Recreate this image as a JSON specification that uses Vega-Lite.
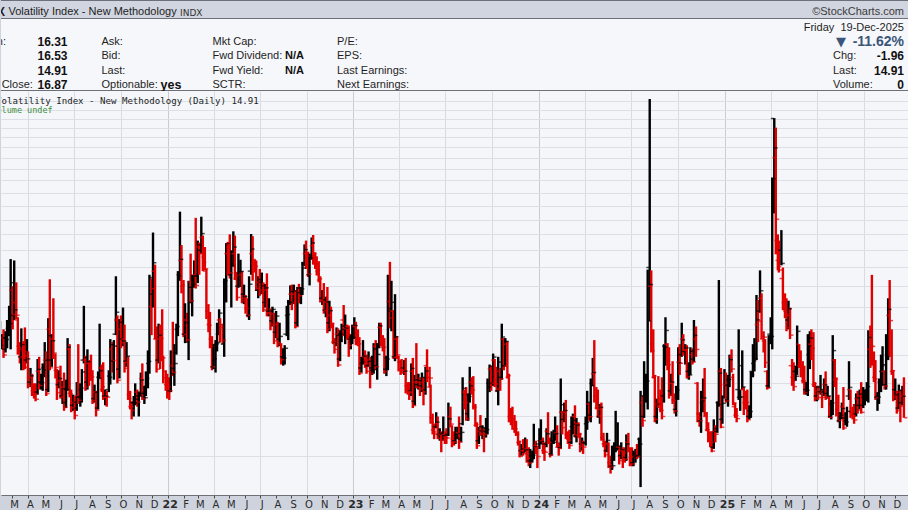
{
"$schema":"https://vega.github.io/schema/vega-lite/v6.json",
"background":"#cfd3dd",
"padding":0,
"spacing":0,
"config":{"view":{"stroke":null},"font":"Liberation Sans"},
"datasets":{
"ohlc":[
{"d":"2021-02-05","o":22.9,"h":23.4,"l":20.6,"c":20.87},
{"d":"2021-02-09","o":21,"h":22,"l":20.5,"c":21.63},
{"d":"2021-02-12","o":21.6,"h":22.5,"l":19.7,"c":19.97},
{"d":"2021-02-16","o":20.5,"h":22.3,"l":20.2,"c":21.46},
{"d":"2021-02-19","o":21.6,"h":23.5,"l":20.6,"c":22.05},
{"d":"2021-02-23","o":22.6,"h":25.1,"l":21.8,"c":23.11},
{"d":"2021-02-26","o":23,"h":31.2,"l":20.5,"c":27.95},
{"d":"2021-03-02","o":27,"h":27.5,"l":22.5,"c":24.1},
{"d":"2021-03-05","o":24,"h":31,"l":23.5,"c":24.66},
{"d":"2021-03-09","o":25.5,"h":28,"l":23.6,"c":24.03},
{"d":"2021-03-12","o":23.5,"h":23.8,"l":20,"c":20.69},
{"d":"2021-03-16","o":20.8,"h":21.2,"l":19.2,"c":19.79},
{"d":"2021-03-19","o":19.8,"h":22.6,"l":18.6,"c":20.95},
{"d":"2021-03-23","o":20.5,"h":21.3,"l":18.6,"c":20.3},
{"d":"2021-03-26","o":20.3,"h":22.7,"l":18.7,"c":18.86},
{"d":"2021-03-30","o":19.5,"h":21.5,"l":19.2,"c":19.61},
{"d":"2021-04-01","o":19.9,"h":20.3,"l":17.1,"c":17.33},
{"d":"2021-04-06","o":17.6,"h":18.8,"l":17.2,"c":18.12},
{"d":"2021-04-09","o":18,"h":18.3,"l":16.5,"c":16.69},
{"d":"2021-04-13","o":16.9,"h":17.5,"l":16.3,"c":16.65},
{"d":"2021-04-16","o":16.6,"h":17.5,"l":16.1,"c":16.25},
{"d":"2021-04-20","o":16.8,"h":19.6,"l":16.6,"c":18.68},
{"d":"2021-04-23","o":18.5,"h":19.8,"l":17,"c":17.33},
{"d":"2021-04-27","o":17.6,"h":18.3,"l":17,"c":17.56},
{"d":"2021-04-30","o":17.5,"h":19.2,"l":16.9,"c":18.61},
{"d":"2021-05-04","o":18.8,"h":21.2,"l":18,"c":19.48},
{"d":"2021-05-07","o":19.5,"h":20.3,"l":16.5,"c":16.69},
{"d":"2021-05-11","o":17,"h":23.7,"l":16.8,"c":21.84},
{"d":"2021-05-14","o":22.5,"h":28.4,"l":18.6,"c":18.81},
{"d":"2021-05-18","o":19.5,"h":22,"l":18.9,"c":21.34},
{"d":"2021-05-21","o":21.5,"h":26,"l":19.6,"c":20.15},
{"d":"2021-05-25","o":19.9,"h":20.1,"l":17.9,"c":18.84},
{"d":"2021-05-28","o":18.6,"h":18.7,"l":16.2,"c":16.76},
{"d":"2021-06-01","o":17.4,"h":18.6,"l":17.1,"c":17.9},
{"d":"2021-06-04","o":17.7,"h":19,"l":16.3,"c":16.42},
{"d":"2021-06-08","o":16.5,"h":17.7,"l":15.9,"c":17.07},
{"d":"2021-06-11","o":17.2,"h":18.4,"l":15.4,"c":15.65},
{"d":"2021-06-15","o":16,"h":17.8,"l":15.6,"c":17.02},
{"d":"2021-06-18","o":17,"h":21.6,"l":16.9,"c":20.7},
{"d":"2021-06-22","o":20.5,"h":21,"l":16.4,"c":16.66},
{"d":"2021-06-25","o":16.7,"h":17,"l":15.3,"c":15.62},
{"d":"2021-06-29","o":15.8,"h":16.6,"l":15.4,"c":16.02},
{"d":"2021-07-02","o":16,"h":16.5,"l":14.8,"c":15.07},
{"d":"2021-07-06","o":15.6,"h":17.6,"l":15.4,"c":16.44},
{"d":"2021-07-09","o":16.5,"h":21,"l":15.9,"c":16.18},
{"d":"2021-07-13","o":16.4,"h":17.5,"l":15.7,"c":17.12},
{"d":"2021-07-16","o":17,"h":18.7,"l":16,"c":18.45},
{"d":"2021-07-20","o":19.5,"h":25.1,"l":19.2,"c":19.73},
{"d":"2021-07-23","o":19.5,"h":19.9,"l":16.9,"c":17.2},
{"d":"2021-07-27","o":17.6,"h":20.5,"l":17,"c":19.36},
{"d":"2021-07-30","o":19.2,"h":19.5,"l":17.3,"c":18.24},
{"d":"2021-08-03","o":18.8,"h":20,"l":17.7,"c":18.04},
{"d":"2021-08-06","o":18,"h":18.6,"l":15.9,"c":16.15},
{"d":"2021-08-10","o":16.3,"h":17.4,"l":16,"c":16.79},
{"d":"2021-08-13","o":16.8,"h":16.9,"l":15,"c":15.45},
{"d":"2021-08-17","o":15.6,"h":18.5,"l":15.5,"c":17.91},
{"d":"2021-08-20","o":18,"h":23.1,"l":17.9,"c":18.56},
{"d":"2021-08-24","o":18.8,"h":19.1,"l":16.8,"c":17.22},
{"d":"2021-08-27","o":17,"h":19.3,"l":16.2,"c":16.39},
{"d":"2021-08-31","o":16.5,"h":17,"l":15.8,"c":16.48},
{"d":"2021-09-03","o":16.4,"h":16.9,"l":15.7,"c":16.41},
{"d":"2021-09-07","o":17,"h":18.6,"l":16.8,"c":18},
{"d":"2021-09-10","o":18.1,"h":21.5,"l":17.4,"c":20.95},
{"d":"2021-09-14","o":20.5,"h":21.2,"l":18.4,"c":19.46},
{"d":"2021-09-17","o":19.4,"h":21.4,"l":17.8,"c":20.81},
{"d":"2021-09-21","o":22,"h":28.8,"l":21.9,"c":24.36},
{"d":"2021-09-24","o":23.5,"h":24,"l":17.5,"c":17.75},
{"d":"2021-09-28","o":18.7,"h":23.6,"l":17.9,"c":23.25},
{"d":"2021-10-01","o":22.5,"h":24,"l":20.6,"c":21.15},
{"d":"2021-10-05","o":21.5,"h":24.9,"l":20.8,"c":21.3},
{"d":"2021-10-08","o":21.5,"h":23,"l":18.4,"c":18.77},
{"d":"2021-10-12","o":19.4,"h":21.2,"l":18.9,"c":19.85},
{"d":"2021-10-15","o":19.3,"h":19.8,"l":16.2,"c":16.3},
{"d":"2021-10-19","o":16.6,"h":16.9,"l":15.5,"c":15.7},
{"d":"2021-10-22","o":15.7,"h":16.1,"l":14.8,"c":15.43},
{"d":"2021-10-26","o":16,"h":16.5,"l":15,"c":15.98},
{"d":"2021-10-29","o":16,"h":17.5,"l":15.8,"c":16.26},
{"d":"2021-11-02","o":16.8,"h":17,"l":15.7,"c":16.03},
{"d":"2021-11-05","o":16.5,"h":16.8,"l":15,"c":16.48},
{"d":"2021-11-09","o":16.8,"h":18.4,"l":16.5,"c":17.78},
{"d":"2021-11-12","o":17.9,"h":19.2,"l":16.2,"c":16.29},
{"d":"2021-11-16","o":16.7,"h":17.3,"l":15.9,"c":16.37},
{"d":"2021-11-19","o":16.7,"h":18.5,"l":16.5,"c":17.91},
{"d":"2021-11-23","o":17.3,"h":20.4,"l":17.1,"c":19.38},
{"d":"2021-11-26","o":19.2,"h":29,"l":18.3,"c":28.62},
{"d":"2021-11-30","o":25,"h":28.5,"l":21.9,"c":27.19},
{"d":"2021-12-03","o":26.5,"h":35.3,"l":24.9,"c":30.67},
{"d":"2021-12-07","o":29.5,"h":30.4,"l":21.5,"c":21.89},
{"d":"2021-12-10","o":21.5,"h":22.8,"l":18.4,"c":18.69},
{"d":"2021-12-14","o":19.5,"h":23.1,"l":19.2,"c":21.89},
{"d":"2021-12-17","o":21.5,"h":23,"l":18.7,"c":21.57},
{"d":"2021-12-21","o":22.5,"h":24.7,"l":19.4,"c":19.7},
{"d":"2021-12-23","o":19.5,"h":19.9,"l":17.5,"c":17.96},
{"d":"2021-12-28","o":18.5,"h":18.6,"l":16.9,"c":17.54},
{"d":"2021-12-31","o":17.4,"h":18.3,"l":16.3,"c":17.22},
{"d":"2022-01-04","o":17.6,"h":18,"l":16.2,"c":16.91},
{"d":"2022-01-07","o":16.9,"h":20.4,"l":16.8,"c":18.76},
{"d":"2022-01-11","o":19,"h":23.3,"l":18.1,"c":18.41},
{"d":"2022-01-14","o":18.3,"h":21,"l":17.3,"c":19.19},
{"d":"2022-01-18","o":20.2,"h":23.1,"l":20,"c":22.79},
{"d":"2022-01-21","o":22.5,"h":29.5,"l":21.8,"c":28.85},
{"d":"2022-01-25","o":29,"h":38.9,"l":28.2,"c":31.16},
{"d":"2022-01-28","o":31,"h":33.3,"l":26.6,"c":27.66},
{"d":"2022-02-01","o":27.5,"h":28.3,"l":21.7,"c":21.96},
{"d":"2022-02-04","o":22,"h":25.4,"l":21.1,"c":23.22},
{"d":"2022-02-08","o":23.5,"h":24.3,"l":21.2,"c":21.44},
{"d":"2022-02-11","o":21.2,"h":28.2,"l":19.5,"c":27.36},
{"d":"2022-02-15","o":28,"h":32,"l":25.4,"c":25.7},
{"d":"2022-02-18","o":25.5,"h":29,"l":23.9,"c":27.75},
{"d":"2022-02-22","o":28.5,"h":31,"l":27.3,"c":28.81},
{"d":"2022-02-25","o":29,"h":37.8,"l":27.2,"c":27.59},
{"d":"2022-03-01","o":28.9,"h":34,"l":27.9,"c":33.32},
{"d":"2022-03-04","o":33,"h":33.7,"l":29,"c":31.98},
{"d":"2022-03-08","o":32.5,"h":38,"l":32,"c":35.13},
{"d":"2022-03-11","o":34.5,"h":34.8,"l":29.5,"c":30.75},
{"d":"2022-03-15","o":31.5,"h":33,"l":29.6,"c":29.83},
{"d":"2022-03-18","o":29.5,"h":29.8,"l":23.6,"c":23.87},
{"d":"2022-03-22","o":24.5,"h":25.3,"l":22.2,"c":22.94},
{"d":"2022-03-25","o":23,"h":24.4,"l":20.6,"c":20.81},
{"d":"2022-03-29","o":21.5,"h":21.8,"l":18.6,"c":18.9},
{"d":"2022-04-01","o":18.9,"h":21,"l":18.7,"c":19.63},
{"d":"2022-04-05","o":19.5,"h":21.4,"l":18.4,"c":21.03},
{"d":"2022-04-08","o":21,"h":23.2,"l":20.3,"c":21.16},
{"d":"2022-04-12","o":22,"h":24.7,"l":21.9,"c":24.26},
{"d":"2022-04-14","o":23.5,"h":23.7,"l":21.2,"c":22.7},
{"d":"2022-04-19","o":23,"h":23.1,"l":21,"c":21.37},
{"d":"2022-04-22","o":21,"h":28.5,"l":19.8,"c":28.21},
{"d":"2022-04-26","o":28,"h":33.6,"l":25.5,"c":33.52},
{"d":"2022-04-29","o":32,"h":33.8,"l":28.9,"c":33.4},
{"d":"2022-05-03","o":33,"h":35,"l":28.5,"c":29.25},
{"d":"2022-05-06","o":29,"h":32.5,"l":24.9,"c":30.19},
{"d":"2022-05-10","o":30.5,"h":35.5,"l":30.2,"c":32.99},
{"d":"2022-05-13","o":32,"h":34.8,"l":28.3,"c":28.87},
{"d":"2022-05-17","o":28.5,"h":29.4,"l":25.7,"c":26.1},
{"d":"2022-05-20","o":27.5,"h":32,"l":27.3,"c":29.43},
{"d":"2022-05-24","o":29,"h":31.1,"l":27.4,"c":29.45},
{"d":"2022-05-27","o":29,"h":29.5,"l":25.4,"c":25.72},
{"d":"2022-05-31","o":26.5,"h":27.7,"l":25.3,"c":26.19},
{"d":"2022-06-03","o":26,"h":26.4,"l":24.2,"c":24.79},
{"d":"2022-06-07","o":24.8,"h":26,"l":23.8,"c":24.02},
{"d":"2022-06-10","o":24,"h":28.8,"l":23.5,"c":27.75},
{"d":"2022-06-14","o":29.5,"h":35.05,"l":29,"c":32.69},
{"d":"2022-06-17","o":32,"h":34.7,"l":28.2,"c":31.13},
{"d":"2022-06-21","o":30.5,"h":31.1,"l":29.3,"c":30.19},
{"d":"2022-06-24","o":30.5,"h":31,"l":26.9,"c":27.23},
{"d":"2022-06-28","o":27,"h":28.8,"l":26,"c":28.36},
{"d":"2022-07-01","o":28,"h":29.8,"l":26.3,"c":26.7},
{"d":"2022-07-05","o":28,"h":29.3,"l":26.5,"c":27.54},
{"d":"2022-07-08","o":27,"h":28,"l":24.4,"c":24.64},
{"d":"2022-07-12","o":25.5,"h":27.8,"l":24.9,"c":27.29},
{"d":"2022-07-15","o":27,"h":29.2,"l":23.9,"c":24.23},
{"d":"2022-07-19","o":24.5,"h":26,"l":23.9,"c":24.5},
{"d":"2022-07-22","o":24.3,"h":24.8,"l":22.4,"c":23.03},
{"d":"2022-07-26","o":23.4,"h":25,"l":22.8,"c":24.69},
{"d":"2022-07-29","o":24.2,"h":24.3,"l":21,"c":21.33},
{"d":"2022-08-02","o":22.2,"h":24.5,"l":21.6,"c":23.93},
{"d":"2022-08-05","o":23,"h":23.3,"l":20.7,"c":21.15},
{"d":"2022-08-09","o":21.5,"h":23.2,"l":20.8,"c":21.77},
{"d":"2022-08-12","o":21,"h":21.1,"l":19.1,"c":19.53},
{"d":"2022-08-16","o":19.8,"h":20.6,"l":19,"c":19.69},
{"d":"2022-08-19","o":19.7,"h":20.9,"l":19.1,"c":20.6},
{"d":"2022-08-23","o":22,"h":25.1,"l":21.8,"c":24.11},
{"d":"2022-08-26","o":24,"h":25.8,"l":21.4,"c":25.56},
{"d":"2022-08-30","o":25.5,"h":27.6,"l":25.2,"c":26.83},
{"d":"2022-09-02","o":26.5,"h":27.7,"l":24.6,"c":25.47},
{"d":"2022-09-06","o":25.5,"h":27.7,"l":25.3,"c":26.91},
{"d":"2022-09-09","o":26.5,"h":27,"l":22.6,"c":22.79},
{"d":"2022-09-13","o":23.2,"h":27.4,"l":22.8,"c":27.27},
{"d":"2022-09-16","o":26.9,"h":27.8,"l":25.4,"c":26.3},
{"d":"2022-09-20","o":26.7,"h":27.4,"l":25.3,"c":27.16},
{"d":"2022-09-23","o":27,"h":30.8,"l":26.4,"c":29.92},
{"d":"2022-09-27","o":30.5,"h":33.4,"l":30.2,"c":32.6},
{"d":"2022-09-30","o":32,"h":34,"l":29.8,"c":31.62},
{"d":"2022-10-04","o":31,"h":32.3,"l":28.7,"c":29.07},
{"d":"2022-10-07","o":29,"h":32,"l":27.6,"c":31.36},
{"d":"2022-10-11","o":31.5,"h":34.5,"l":31.1,"c":33.63},
{"d":"2022-10-14","o":33.2,"h":34.9,"l":30.4,"c":32.02},
{"d":"2022-10-18","o":31.5,"h":32.2,"l":29.8,"c":30.5},
{"d":"2022-10-21","o":30.5,"h":31.6,"l":28.9,"c":29.69},
{"d":"2022-10-25","o":29.5,"h":30.9,"l":28,"c":28.46},
{"d":"2022-10-28","o":28.3,"h":28.8,"l":25.5,"c":25.75},
{"d":"2022-11-01","o":26,"h":27,"l":25.2,"c":25.81},
{"d":"2022-11-04","o":25.8,"h":27.9,"l":24.2,"c":24.55},
{"d":"2022-11-08","o":24.6,"h":26.2,"l":23.8,"c":25.54},
{"d":"2022-11-11","o":25.5,"h":27.4,"l":22.1,"c":22.52},
{"d":"2022-11-15","o":23.2,"h":25.7,"l":22.3,"c":24.54},
{"d":"2022-11-18","o":24,"h":25,"l":22.6,"c":23.12},
{"d":"2022-11-22","o":23,"h":23.2,"l":21,"c":21.24},
{"d":"2022-11-25","o":21.2,"h":21.6,"l":20.1,"c":20.5},
{"d":"2022-11-29","o":21.2,"h":22.7,"l":20.8,"c":21.89},
{"d":"2022-12-02","o":22,"h":22.6,"l":18.9,"c":19.06},
{"d":"2022-12-06","o":19.6,"h":22.4,"l":19.4,"c":22.01},
{"d":"2022-12-09","o":22,"h":23.1,"l":21.2,"c":22.83},
{"d":"2022-12-13","o":23.5,"h":25.2,"l":21.8,"c":22.55},
{"d":"2022-12-16","o":22.5,"h":24.1,"l":21,"c":22.62},
{"d":"2022-12-20","o":22.8,"h":23,"l":21.5,"c":21.97},
{"d":"2022-12-23","o":21.5,"h":22.9,"l":19.8,"c":20.87},
{"d":"2022-12-27","o":21.5,"h":22,"l":20.5,"c":21.65},
{"d":"2022-12-30","o":21.7,"h":23,"l":21,"c":21.67},
{"d":"2023-01-03","o":21.7,"h":23.8,"l":21.5,"c":22.9},
{"d":"2023-01-06","o":22.8,"h":23.3,"l":20.9,"c":21.13},
{"d":"2023-01-10","o":21.3,"h":22.5,"l":20.8,"c":21.03},
{"d":"2023-01-13","o":21,"h":21.7,"l":18.2,"c":18.35},
{"d":"2023-01-17","o":18.8,"h":19.8,"l":18.4,"c":19.36},
{"d":"2023-01-20","o":19.2,"h":21.4,"l":19.1,"c":19.85},
{"d":"2023-01-24","o":19.8,"h":20.4,"l":18.8,"c":19.2},
{"d":"2023-01-27","o":19.4,"h":20,"l":18.3,"c":18.51},
{"d":"2023-01-31","o":19,"h":20.3,"l":18.9,"c":19.4},
{"d":"2023-02-03","o":19.5,"h":19.8,"l":17.1,"c":18.33},
{"d":"2023-02-07","o":18.8,"h":19.9,"l":18.2,"c":18.66},
{"d":"2023-02-10","o":18.6,"h":21.1,"l":18.3,"c":20.53},
{"d":"2023-02-14","o":20.8,"h":21.4,"l":18.6,"c":18.91},
{"d":"2023-02-17","o":19,"h":21.1,"l":17.8,"c":20.02},
{"d":"2023-02-21","o":21,"h":23.2,"l":20.6,"c":22.87},
{"d":"2023-02-24","o":22.7,"h":23.2,"l":20.8,"c":21.67},
{"d":"2023-02-28","o":21.5,"h":21.9,"l":20.3,"c":20.7},
{"d":"2023-03-03","o":20.7,"h":21.6,"l":18.3,"c":18.49},
{"d":"2023-03-07","o":18.7,"h":19.9,"l":18.1,"c":19.59},
{"d":"2023-03-10","o":19.7,"h":29,"l":18.6,"c":24.8},
{"d":"2023-03-14","o":25.6,"h":30.8,"l":22.6,"c":23.73},
{"d":"2023-03-17","o":24.5,"h":28.2,"l":22.3,"c":25.51},
{"d":"2023-03-21","o":24.5,"h":24.6,"l":19.6,"c":19.75},
{"d":"2023-03-24","o":19.8,"h":26.5,"l":19.4,"c":21.74},
{"d":"2023-03-28","o":21.5,"h":21.8,"l":19.6,"c":19.97},
{"d":"2023-03-31","o":19.8,"h":19.9,"l":18.5,"c":18.7},
{"d":"2023-04-04","o":19.3,"h":19.5,"l":18.2,"c":18.58},
{"d":"2023-04-06","o":18.7,"h":19.6,"l":18.3,"c":18.4},
{"d":"2023-04-11","o":18.8,"h":19.5,"l":18.2,"c":18.53},
{"d":"2023-04-14","o":18.6,"h":19.7,"l":16.7,"c":17.07},
{"d":"2023-04-18","o":17.3,"h":17.6,"l":16.6,"c":16.83},
{"d":"2023-04-21","o":16.9,"h":17.6,"l":16.2,"c":16.77},
{"d":"2023-04-25","o":16.9,"h":19.2,"l":16.5,"c":18.76},
{"d":"2023-04-28","o":18.5,"h":19.7,"l":15.6,"c":15.78},
{"d":"2023-05-02","o":16.1,"h":18.2,"l":15.8,"c":17.78},
{"d":"2023-05-05","o":17.6,"h":21.1,"l":17.1,"c":17.19},
{"d":"2023-05-09","o":17.4,"h":18.3,"l":17,"c":17.71},
{"d":"2023-05-12","o":17.6,"h":18,"l":16.5,"c":17.03},
{"d":"2023-05-16","o":17.3,"h":18.4,"l":16.8,"c":17.99},
{"d":"2023-05-19","o":17.6,"h":18,"l":15.8,"c":16.81},
{"d":"2023-05-23","o":17,"h":18.9,"l":16.6,"c":18.53},
{"d":"2023-05-26","o":19,"h":20.5,"l":17.6,"c":17.95},
{"d":"2023-05-31","o":18,"h":18.9,"l":17.2,"c":17.94},
{"d":"2023-06-02","o":17.2,"h":17.4,"l":14.5,"c":14.6},
{"d":"2023-06-06","o":14.9,"h":15.2,"l":13.8,"c":13.96},
{"d":"2023-06-09","o":14.1,"h":14.5,"l":13.5,"c":13.83},
{"d":"2023-06-13","o":14.3,"h":15.3,"l":14.2,"c":14.61},
{"d":"2023-06-16","o":14.5,"h":15,"l":13.5,"c":13.54},
{"d":"2023-06-20","o":13.8,"h":14.2,"l":13.4,"c":13.88},
{"d":"2023-06-23","o":13.8,"h":14,"l":12.7,"c":13.44},
{"d":"2023-06-27","o":13.8,"h":15,"l":13.4,"c":13.74},
{"d":"2023-06-30","o":13.8,"h":14,"l":13.2,"c":13.59},
{"d":"2023-07-03","o":13.6,"h":14.2,"l":13.2,"c":13.57},
{"d":"2023-07-07","o":13.8,"h":16,"l":13.7,"c":14.83},
{"d":"2023-07-11","o":15,"h":15.7,"l":14.3,"c":14.48},
{"d":"2023-07-14","o":14.3,"h":14.4,"l":13,"c":13.34},
{"d":"2023-07-18","o":13.5,"h":14,"l":13.1,"c":13.3},
{"d":"2023-07-21","o":13.4,"h":14.3,"l":13.2,"c":13.6},
{"d":"2023-07-25","o":13.8,"h":14.3,"l":13.5,"c":13.86},
{"d":"2023-07-28","o":13.9,"h":15,"l":12.9,"c":13.33},
{"d":"2023-08-01","o":13.5,"h":14.3,"l":13.3,"c":13.93},
{"d":"2023-08-04","o":14.5,"h":18,"l":14.4,"c":17.1},
{"d":"2023-08-08","o":16.8,"h":17,"l":15.5,"c":15.99},
{"d":"2023-08-11","o":16,"h":17.2,"l":14.7,"c":14.84},
{"d":"2023-08-15","o":15.2,"h":16.7,"l":14.7,"c":16.46},
{"d":"2023-08-18","o":16.6,"h":18.9,"l":16,"c":17.3},
{"d":"2023-08-22","o":17.6,"h":18,"l":16.6,"c":16.97},
{"d":"2023-08-25","o":16.8,"h":18.1,"l":15.5,"c":15.68},
{"d":"2023-08-29","o":15.7,"h":15.9,"l":14.3,"c":14.45},
{"d":"2023-09-01","o":14.4,"h":14.6,"l":12.9,"c":13.09},
{"d":"2023-09-05","o":13.4,"h":14.3,"l":13.2,"c":14.02},
{"d":"2023-09-08","o":14,"h":15.1,"l":13.7,"c":13.84},
{"d":"2023-09-12","o":14.3,"h":14.4,"l":13.5,"c":14.23},
{"d":"2023-09-15","o":14,"h":14.2,"l":12.7,"c":13.79},
{"d":"2023-09-19","o":14,"h":14.9,"l":13.6,"c":14.11},
{"d":"2023-09-22","o":14.2,"h":17.9,"l":13.8,"c":17.2},
{"d":"2023-09-26","o":17.5,"h":19.1,"l":16.8,"c":18.94},
{"d":"2023-09-29","o":18.7,"h":19,"l":16.9,"c":17.52},
{"d":"2023-10-03","o":17.5,"h":20.1,"l":17.3,"c":19.78},
{"d":"2023-10-06","o":19.5,"h":19.6,"l":17.2,"c":17.45},
{"d":"2023-10-10","o":17.8,"h":18.9,"l":16.8,"c":17.03},
{"d":"2023-10-13","o":16.9,"h":19.8,"l":15.8,"c":19.32},
{"d":"2023-10-17","o":18.5,"h":18.8,"l":16.9,"c":17.88},
{"d":"2023-10-20","o":18,"h":23.1,"l":17.8,"c":21.71},
{"d":"2023-10-24","o":21.5,"h":21.6,"l":18.6,"c":18.97},
{"d":"2023-10-27","o":19,"h":21.6,"l":18.9,"c":21.27},
{"d":"2023-10-31","o":21,"h":21.3,"l":17.9,"c":18.14},
{"d":"2023-11-03","o":18,"h":18.3,"l":14.6,"c":14.91},
{"d":"2023-11-07","o":15,"h":15.6,"l":14.4,"c":14.81},
{"d":"2023-11-10","o":14.8,"h":15.7,"l":14.1,"c":14.17},
{"d":"2023-11-14","o":14.6,"h":15.1,"l":13.9,"c":14.16},
{"d":"2023-11-17","o":14.2,"h":14.7,"l":13.7,"c":13.8},
{"d":"2023-11-21","o":13.9,"h":14,"l":13.1,"c":13.35},
{"d":"2023-11-24","o":13.3,"h":13.4,"l":12.4,"c":12.46},
{"d":"2023-11-28","o":12.8,"h":13.2,"l":12.5,"c":12.69},
{"d":"2023-12-01","o":12.8,"h":13.5,"l":12.5,"c":12.63},
{"d":"2023-12-05","o":12.9,"h":13.6,"l":12.7,"c":12.85},
{"d":"2023-12-08","o":12.9,"h":13.5,"l":12.1,"c":12.35},
{"d":"2023-12-12","o":12.6,"h":13,"l":11.9,"c":12.07},
{"d":"2023-12-15","o":12.2,"h":12.9,"l":11.8,"c":12.28},
{"d":"2023-12-19","o":12.5,"h":12.8,"l":12.1,"c":12.53},
{"d":"2023-12-22","o":12.5,"h":14.5,"l":12.3,"c":13.03},
{"d":"2023-12-26","o":13.1,"h":13.4,"l":12.6,"c":12.99},
{"d":"2023-12-29","o":13,"h":13.1,"l":11.8,"c":12.45},
{"d":"2024-01-02","o":13.2,"h":14.2,"l":12.9,"c":13.2},
{"d":"2024-01-05","o":13.4,"h":14.8,"l":13.2,"c":13.35},
{"d":"2024-01-09","o":13.4,"h":13.6,"l":12.6,"c":12.76},
{"d":"2024-01-12","o":12.8,"h":13.3,"l":12.2,"c":12.7},
{"d":"2024-01-16","o":13.2,"h":14.2,"l":13,"c":13.84},
{"d":"2024-01-19","o":14,"h":15.3,"l":13.2,"c":13.3},
{"d":"2024-01-23","o":13.4,"h":13.6,"l":12.4,"c":12.55},
{"d":"2024-01-26","o":12.6,"h":14,"l":12.5,"c":13.26},
{"d":"2024-01-30","o":13.4,"h":14.1,"l":13.2,"c":13.31},
{"d":"2024-02-02","o":13.4,"h":15,"l":13.4,"c":13.85},
{"d":"2024-02-06","o":13.9,"h":14.4,"l":13,"c":13.06},
{"d":"2024-02-09","o":13,"h":13.3,"l":12.5,"c":12.93},
{"d":"2024-02-13","o":13,"h":17.9,"l":12.9,"c":15.85},
{"d":"2024-02-16","o":15.3,"h":15.4,"l":13.8,"c":14.24},
{"d":"2024-02-20","o":14.8,"h":16,"l":14.6,"c":15.42},
{"d":"2024-02-23","o":15.3,"h":16.2,"l":13.5,"c":13.75},
{"d":"2024-02-27","o":13.8,"h":14,"l":13.2,"c":13.43},
{"d":"2024-03-01","o":13.5,"h":14.1,"l":12.9,"c":13.11},
{"d":"2024-03-05","o":13.3,"h":15,"l":13.2,"c":14.46},
{"d":"2024-03-08","o":14.3,"h":15.2,"l":13.8,"c":14.74},
{"d":"2024-03-12","o":15,"h":15.8,"l":13.6,"c":13.75},
{"d":"2024-03-15","o":13.7,"h":14.9,"l":13.3,"c":14.41},
{"d":"2024-03-19","o":14.5,"h":14.6,"l":13.6,"c":13.82},
{"d":"2024-03-22","o":13.6,"h":13.9,"l":12.7,"c":13.06},
{"d":"2024-03-26","o":13.2,"h":13.6,"l":12.8,"c":13.24},
{"d":"2024-03-28","o":13.2,"h":13.4,"l":12.6,"c":13.01},
{"d":"2024-04-02","o":13.3,"h":15,"l":13.1,"c":14.61},
{"d":"2024-04-05","o":14.5,"h":16.9,"l":14.1,"c":16.03},
{"d":"2024-04-09","o":15.9,"h":16,"l":14.7,"c":14.98},
{"d":"2024-04-12","o":15.1,"h":17.9,"l":14.6,"c":17.31},
{"d":"2024-04-16","o":17.5,"h":19.7,"l":17.3,"c":18.4},
{"d":"2024-04-19","o":18.3,"h":21.4,"l":16,"c":16.14},
{"d":"2024-04-23","o":16.5,"h":17.2,"l":15.5,"c":15.69},
{"d":"2024-04-26","o":15.6,"h":17,"l":14.9,"c":15.03},
{"d":"2024-04-30","o":15,"h":15.9,"l":14.5,"c":15.65},
{"d":"2024-05-03","o":15.5,"h":16,"l":13.4,"c":13.49},
{"d":"2024-05-07","o":13.6,"h":13.9,"l":13,"c":13.23},
{"d":"2024-05-10","o":13.2,"h":13.4,"l":12.4,"c":12.55},
{"d":"2024-05-14","o":12.8,"h":13.9,"l":12.7,"c":13.42},
{"d":"2024-05-17","o":13.2,"h":13.3,"l":11.8,"c":11.99},
{"d":"2024-05-21","o":12.1,"h":12.5,"l":11.5,"c":11.86},
{"d":"2024-05-24","o":11.9,"h":13.1,"l":11.7,"c":11.93},
{"d":"2024-05-28","o":12.3,"h":13.3,"l":12.2,"c":12.92},
{"d":"2024-05-31","o":13,"h":15.4,"l":12.7,"c":12.92},
{"d":"2024-06-04","o":13,"h":14.6,"l":12.8,"c":13.06},
{"d":"2024-06-07","o":13,"h":13.1,"l":12,"c":12.22},
{"d":"2024-06-11","o":12.5,"h":13.3,"l":12.3,"c":12.85},
{"d":"2024-06-14","o":12.8,"h":13,"l":11.8,"c":12.66},
{"d":"2024-06-18","o":12.7,"h":13,"l":12.1,"c":12.3},
{"d":"2024-06-21","o":12.4,"h":13.8,"l":12.2,"c":13.2},
{"d":"2024-06-25","o":13.3,"h":13.9,"l":12.7,"c":12.84},
{"d":"2024-06-28","o":12.8,"h":13,"l":11.9,"c":12.44},
{"d":"2024-07-02","o":12.4,"h":13,"l":11.9,"c":12.03},
{"d":"2024-07-05","o":12.1,"h":12.8,"l":11.9,"c":12.48},
{"d":"2024-07-09","o":12.6,"h":12.9,"l":12.1,"c":12.51},
{"d":"2024-07-12","o":12.5,"h":13.2,"l":12.3,"c":12.46},
{"d":"2024-07-16","o":12.5,"h":13.6,"l":12.4,"c":13.19},
{"d":"2024-07-19","o":13.5,"h":16.9,"l":10.8,"c":16.52},
{"d":"2024-07-23","o":16,"h":16.5,"l":14.3,"c":14.72},
{"d":"2024-07-26","o":15,"h":19.4,"l":14.9,"c":16.39},
{"d":"2024-07-30","o":16.5,"h":18.3,"l":16,"c":17.69},
{"d":"2024-08-02","o":17,"h":29.7,"l":15.5,"c":23.39},
{"d":"2024-08-06","o":30,"h":65.7,"l":23.4,"c":27.71},
{"d":"2024-08-09","o":27.5,"h":29.6,"l":20.2,"c":20.37},
{"d":"2024-08-13","o":21,"h":22.5,"l":17.9,"c":18.12},
{"d":"2024-08-16","o":18,"h":18.2,"l":14.6,"c":14.8},
{"d":"2024-08-20","o":15,"h":16.3,"l":14.5,"c":15.88},
{"d":"2024-08-23","o":15.9,"h":18.1,"l":15.6,"c":15.86},
{"d":"2024-08-27","o":16.3,"h":17,"l":15.3,"c":15.43},
{"d":"2024-08-30","o":15.5,"h":18,"l":14.8,"c":15},
{"d":"2024-09-03","o":16.5,"h":21,"l":16,"c":20.72},
{"d":"2024-09-06","o":20.8,"h":23.8,"l":19,"c":22.38},
{"d":"2024-09-10","o":21,"h":21.1,"l":18.6,"c":19.08},
{"d":"2024-09-13","o":19.5,"h":20.7,"l":16.3,"c":16.56},
{"d":"2024-09-17","o":16.9,"h":18.3,"l":16.5,"c":17.61},
{"d":"2024-09-20","o":17.5,"h":19.4,"l":15.9,"c":16.15},
{"d":"2024-09-24","o":16.2,"h":16.7,"l":15.2,"c":15.39},
{"d":"2024-09-27","o":15.5,"h":17.3,"l":15,"c":16.96},
{"d":"2024-10-01","o":17.2,"h":20.7,"l":16.2,"c":19.26},
{"d":"2024-10-04","o":19.3,"h":21,"l":18.2,"c":19.21},
{"d":"2024-10-08","o":20,"h":23.2,"l":19.8,"c":21.42},
{"d":"2024-10-11","o":21.5,"h":22,"l":19.9,"c":20.46},
{"d":"2024-10-15","o":20.3,"h":21,"l":19.1,"c":20.64},
{"d":"2024-10-18","o":20.4,"h":20.9,"l":17.9,"c":18.03},
{"d":"2024-10-22","o":18.5,"h":19.3,"l":17.8,"c":18.2},
{"d":"2024-10-25","o":18.5,"h":20.7,"l":18.2,"c":20.33},
{"d":"2024-10-29","o":20,"h":20.6,"l":19.1,"c":19.34},
{"d":"2024-11-01","o":19.6,"h":23.5,"l":19.3,"c":21.88},
{"d":"2024-11-05","o":21.5,"h":22.8,"l":19.8,"c":20.49},
{"d":"2024-11-08","o":17.5,"h":17.6,"l":14.6,"c":14.94},
{"d":"2024-11-12","o":15.2,"h":15.3,"l":14.3,"c":14.71},
{"d":"2024-11-15","o":14.7,"h":16.9,"l":13.9,"c":16.14},
{"d":"2024-11-19","o":16,"h":17.9,"l":15.3,"c":16.35},
{"d":"2024-11-22","o":16.2,"h":18.8,"l":15,"c":15.24},
{"d":"2024-11-26","o":15,"h":15.3,"l":14,"c":14.1},
{"d":"2024-11-29","o":14.1,"h":14.6,"l":13.3,"c":13.51},
{"d":"2024-12-03","o":13.8,"h":14,"l":13,"c":13.3},
{"d":"2024-12-06","o":13.4,"h":14,"l":12.7,"c":12.77},
{"d":"2024-12-10","o":13,"h":14.8,"l":12.9,"c":14.18},
{"d":"2024-12-13","o":14,"h":14.4,"l":13.3,"c":13.81},
{"d":"2024-12-17","o":14,"h":16.1,"l":13.9,"c":15.87},
{"d":"2024-12-20","o":16,"h":28.3,"l":15.7,"c":18.36},
{"d":"2024-12-24","o":18.5,"h":18.8,"l":14.2,"c":14.27},
{"d":"2024-12-27","o":14.8,"h":16.5,"l":14.5,"c":15.95},
{"d":"2024-12-31","o":16.5,"h":18.7,"l":16.3,"c":17.35},
{"d":"2025-01-03","o":17.4,"h":18.4,"l":16,"c":16.13},
{"d":"2025-01-07","o":16.2,"h":18.2,"l":15.7,"c":17.82},
{"d":"2025-01-10","o":17.8,"h":20,"l":17.2,"c":19.54},
{"d":"2025-01-14","o":19.8,"h":20.5,"l":18.4,"c":18.71},
{"d":"2025-01-17","o":18,"h":18.3,"l":15.8,"c":15.97},
{"d":"2025-01-21","o":15.7,"h":16,"l":14.9,"c":15.06},
{"d":"2025-01-24","o":15.1,"h":15.6,"l":14.6,"c":14.85},
{"d":"2025-01-28","o":17,"h":22.5,"l":16.2,"c":16.41},
{"d":"2025-01-31","o":16.4,"h":17,"l":15.4,"c":16.43},
{"d":"2025-02-04","o":19,"h":20.4,"l":17,"c":17.21},
{"d":"2025-02-07","o":17,"h":17.2,"l":15.1,"c":16.54},
{"d":"2025-02-11","o":16,"h":16.9,"l":15.5,"c":16.02},
{"d":"2025-02-14","o":16.5,"h":17,"l":14.6,"c":14.77},
{"d":"2025-02-18","o":15,"h":15.8,"l":14.8,"c":15.35},
{"d":"2025-02-21","o":15.4,"h":18.5,"l":14.9,"c":18.21},
{"d":"2025-02-25","o":18.5,"h":21,"l":18,"c":19.43},
{"d":"2025-02-28","o":19.2,"h":21.6,"l":18.5,"c":19.63},
{"d":"2025-03-04","o":20,"h":26.4,"l":19.5,"c":23.51},
{"d":"2025-03-07","o":23,"h":25.8,"l":21.2,"c":23.37},
{"d":"2025-03-11","o":24.5,"h":29.6,"l":24.3,"c":26.92},
{"d":"2025-03-14","o":26,"h":26.6,"l":21.5,"c":21.77},
{"d":"2025-03-18","o":21.5,"h":22.3,"l":20.2,"c":21.7},
{"d":"2025-03-21","o":21.3,"h":21.5,"l":18.8,"c":19.28},
{"d":"2025-03-25","o":18.5,"h":18.6,"l":17,"c":17.15},
{"d":"2025-03-28","o":17.3,"h":21.9,"l":17.1,"c":21.65},
{"d":"2025-04-01","o":22,"h":23.8,"l":21,"c":21.77},
{"d":"2025-04-04","o":21.5,"h":45.6,"l":20.5,"c":45.31},
{"d":"2025-04-08","o":60,"h":60.13,"l":38.6,"c":52.33},
{"d":"2025-04-11","o":50,"h":57.5,"l":31.9,"c":37.56},
{"d":"2025-04-15","o":34,"h":35,"l":29.6,"c":30.12},
{"d":"2025-04-17","o":31,"h":34,"l":29.3,"c":29.65},
{"d":"2025-04-22","o":32.5,"h":35.7,"l":30.3,"c":30.57},
{"d":"2025-04-25","o":28.5,"h":30,"l":24.6,"c":24.84},
{"d":"2025-04-29","o":25.5,"h":26.6,"l":23.7,"c":24.17},
{"d":"2025-05-02","o":24.5,"h":26,"l":22.3,"c":22.68},
{"d":"2025-05-06","o":23.5,"h":25.7,"l":22.5,"c":24.76},
{"d":"2025-05-09","o":24,"h":24.9,"l":21.5,"c":21.9},
{"d":"2025-05-13","o":19,"h":19.6,"l":17.3,"c":17.72},
{"d":"2025-05-16","o":18,"h":19.3,"l":16.9,"c":17.24},
{"d":"2025-05-20","o":18.5,"h":19,"l":17.7,"c":18.09},
{"d":"2025-05-23","o":18.5,"h":22.9,"l":18.2,"c":22.29},
{"d":"2025-05-27","o":21,"h":21,"l":18.8,"c":18.96},
{"d":"2025-05-30","o":19,"h":20.4,"l":18,"c":18.57},
{"d":"2025-06-03","o":19,"h":19.4,"l":17.5,"c":17.69},
{"d":"2025-06-06","o":17.7,"h":19,"l":16.6,"c":16.77},
{"d":"2025-06-10","o":17,"h":17.6,"l":16.6,"c":16.95},
{"d":"2025-06-13","o":16.8,"h":22,"l":16.5,"c":20.82},
{"d":"2025-06-17","o":20,"h":22.3,"l":18.7,"c":21.6},
{"d":"2025-06-20","o":21,"h":22.5,"l":19.5,"c":20.62},
{"d":"2025-06-24","o":21.5,"h":22.2,"l":17.2,"c":17.48},
{"d":"2025-06-27","o":17.4,"h":17.6,"l":16.1,"c":16.32},
{"d":"2025-07-01","o":16.5,"h":17.3,"l":16.1,"c":16.83},
{"d":"2025-07-03","o":16.9,"h":17.3,"l":16.2,"c":16.38},
{"d":"2025-07-08","o":17.2,"h":18.2,"l":16.6,"c":16.81},
{"d":"2025-07-11","o":16.8,"h":17,"l":15.6,"c":16.4},
{"d":"2025-07-15","o":17,"h":17.9,"l":16.5,"c":17.38},
{"d":"2025-07-18","o":17.4,"h":18.5,"l":16.2,"c":16.41},
{"d":"2025-07-22","o":16.7,"h":17.3,"l":16.3,"c":16.5},
{"d":"2025-07-25","o":16.4,"h":16.5,"l":14.9,"c":14.93},
{"d":"2025-07-29","o":15,"h":16.2,"l":14.8,"c":15.98},
{"d":"2025-08-01","o":15.9,"h":21.9,"l":15.1,"c":20.38},
{"d":"2025-08-05","o":19.5,"h":19.6,"l":17.2,"c":17.85},
{"d":"2025-08-08","o":17.8,"h":18,"l":15,"c":15.15},
{"d":"2025-08-12","o":15.5,"h":16.6,"l":14.6,"c":14.73},
{"d":"2025-08-15","o":14.7,"h":15.3,"l":14.2,"c":15.09},
{"d":"2025-08-19","o":15.2,"h":16,"l":14.8,"c":15.57},
{"d":"2025-08-22","o":15.7,"h":17.2,"l":14.1,"c":14.22},
{"d":"2025-08-26","o":14.9,"h":15.3,"l":14.4,"c":14.62},
{"d":"2025-08-29","o":14.7,"h":15.7,"l":14.3,"c":15.36},
{"d":"2025-09-02","o":16.5,"h":19.4,"l":16.2,"c":17.17},
{"d":"2025-09-05","o":17,"h":17,"l":14.9,"c":15.18},
{"d":"2025-09-09","o":15.3,"h":15.7,"l":14.8,"c":15.04},
{"d":"2025-09-12","o":15.1,"h":15.9,"l":14.5,"c":14.76},
{"d":"2025-09-16","o":15.2,"h":16.7,"l":15,"c":16.36},
{"d":"2025-09-19","o":16.3,"h":16.9,"l":15.2,"c":15.45},
{"d":"2025-09-23","o":15.8,"h":17,"l":15.5,"c":16.64},
{"d":"2025-09-26","o":16.5,"h":17.6,"l":15.2,"c":15.29},
{"d":"2025-09-30","o":15.8,"h":17.2,"l":15.6,"c":16.28},
{"d":"2025-10-03","o":16.4,"h":17,"l":15.8,"c":16.65},
{"d":"2025-10-07","o":16.8,"h":17.6,"l":16.1,"c":17.24},
{"d":"2025-10-10","o":17,"h":22.4,"l":16,"c":21.66},
{"d":"2025-10-14","o":20.5,"h":22.9,"l":18.8,"c":20.81},
{"d":"2025-10-17","o":20.5,"h":28.99,"l":19,"c":20.78},
{"d":"2025-10-21","o":20,"h":20.3,"l":17.6,"c":17.87},
{"d":"2025-10-24","o":18,"h":19.5,"l":16.2,"c":16.37},
{"d":"2025-10-28","o":16.4,"h":16.8,"l":15.4,"c":16.42},
{"d":"2025-10-31","o":16.5,"h":17.9,"l":15.9,"c":17.44},
{"d":"2025-11-04","o":17.6,"h":20,"l":16.8,"c":19},
{"d":"2025-11-07","o":18.5,"h":20.8,"l":17.3,"c":19.08},
{"d":"2025-11-11","o":18.5,"h":18.6,"l":17,"c":17.28},
{"d":"2025-11-14","o":17.4,"h":22,"l":17,"c":19.83},
{"d":"2025-11-18","o":20,"h":26,"l":19.5,"c":24.69},
{"d":"2025-11-21","o":24,"h":28.3,"l":19.8,"c":23.43},
{"d":"2025-11-25","o":22,"h":22.5,"l":18.2,"c":18.56},
{"d":"2025-11-28","o":18.5,"h":18.6,"l":16.1,"c":16.35},
{"d":"2025-12-02","o":17,"h":17.9,"l":16.2,"c":16.59},
{"d":"2025-12-05","o":16.5,"h":16.9,"l":15.2,"c":15.41},
{"d":"2025-12-09","o":15.6,"h":17.4,"l":15.5,"c":16.93},
{"d":"2025-12-12","o":16.8,"h":17,"l":14.6,"c":15.74},
{"d":"2025-12-16","o":16,"h":17.3,"l":15.8,"c":16.48},
{"d":"2025-12-19","o":16.5,"h":18,"l":14.91,"c":14.91}
]
},
"vconcat":[
{
"width":908,"height":19,
"view":{"fill":"#d1d5df","stroke":null},
"layer":[
{"data":{"values":[{"k":"top"}]},"mark":{"type":"rule","color":"#6d7079","strokeWidth":1},"encoding":{"y":{"value":0.5}}},
{"data":{"values":[{"k":"bottom"}]},"mark":{"type":"rule","color":"#6d7079","strokeWidth":1},"encoding":{"y":{"value":18.5}}},
{"data":{"values":[{"t":"$VIX"}]},"mark":{"type":"text","align":"right","baseline":"middle","font":"Liberation Sans","fontSize":12,"fontWeight":"bold","color":"#1e1e1e","clip":true},"encoding":{"x":{"value":4},"y":{"value":12},"text":{"field":"t"}}},
{"data":{"values":[{"t":"Volatility Index - New Methodology"}]},"mark":{"type":"text","align":"left","baseline":"middle","font":"Liberation Sans","fontSize":11,"color":"#1e1e1e","clip":true},"encoding":{"x":{"value":7.5},"y":{"value":12},"text":{"field":"t"}}},
{"data":{"values":[{"t":"INDX"}]},"mark":{"type":"text","align":"left","baseline":"middle","font":"DejaVu Sans","fontSize":9,"color":"#333333","clip":true},"encoding":{"x":{"value":179},"y":{"value":12.5},"text":{"field":"t"}}},
{"data":{"values":[{"t":"©StockCharts.com"}]},"mark":{"type":"text","align":"right","baseline":"middle","font":"Liberation Sans","fontSize":11,"color":"#3c3c3c","clip":true},"encoding":{"x":{"value":903},"y":{"value":11.5},"text":{"field":"t"}}}
]
},
{
"width":908,"height":72,
"view":{"fill":"#f6f7fb","stroke":null},
"encoding":{"y":{"field":"r","type":"ordinal","scale":{"type":"point","domain":["r0","r1","r2","r3","r4"],"range":[8.5,66],"padding":0},"axis":null},"text":{"field":"t"}},
"layer":[
{"data":{"values":[{"k":"bottom"}]},"mark":{"type":"rule","color":"#6d7079","strokeWidth":1},"encoding":{"y":{"value":71.5},"text":null}},
{"data":{"values":[{"t":"Open:","r":"r1"},{"t":"High:","r":"r2"},{"t":"Low:","r":"r3"},{"t":"Prev Close:","r":"r4"}]},"mark":{"type":"text","align":"left","baseline":"middle","fontSize":11,"color":"#1e1e1e","clip":true},"encoding":{"x":{"value":-25}}},
{"data":{"values":[{"t":"16.31","r":"r1"},{"t":"16.53","r":"r2"},{"t":"14.91","r":"r3"},{"t":"16.87","r":"r4"}]},"mark":{"type":"text","align":"left","baseline":"middle","fontSize":12,"fontWeight":"bold","color":"#111111","clip":true},"encoding":{"x":{"value":36.5}}},
{"data":{"values":[{"t":"Ask:","r":"r1"},{"t":"Bid:","r":"r2"},{"t":"Last:","r":"r3"},{"t":"Optionable:","r":"r4"}]},"mark":{"type":"text","align":"left","baseline":"middle","fontSize":11,"color":"#1e1e1e","clip":true},"encoding":{"x":{"value":100.5}}},
{"data":{"values":[{"t":"yes","r":"r4"}]},"mark":{"type":"text","align":"left","baseline":"middle","fontSize":12.5,"fontWeight":"bold","color":"#111111","clip":true},"encoding":{"x":{"value":159.5}}},
{"data":{"values":[{"t":"Mkt Cap:","r":"r1"},{"t":"Fwd Dividend:","r":"r2"},{"t":"Fwd Yield:","r":"r3"},{"t":"SCTR:","r":"r4"}]},"mark":{"type":"text","align":"left","baseline":"middle","fontSize":11,"color":"#1e1e1e","clip":true},"encoding":{"x":{"value":211.5}}},
{"data":{"values":[{"t":"N/A","r":"r2"},{"t":"N/A","r":"r3"}]},"mark":{"type":"text","align":"left","baseline":"middle","fontSize":11,"fontWeight":"bold","color":"#111111","clip":true},"encoding":{"x":{"value":284}}},
{"data":{"values":[{"t":"P/E:","r":"r1"},{"t":"EPS:","r":"r2"},{"t":"Last Earnings:","r":"r3"},{"t":"Next Earnings:","r":"r4"}]},"mark":{"type":"text","align":"left","baseline":"middle","fontSize":11,"color":"#1e1e1e","clip":true},"encoding":{"x":{"value":336}}},
{"data":{"values":[{"t":"Chg:","r":"r2"},{"t":"Last:","r":"r3"},{"t":"Volume:","r":"r4"}]},"mark":{"type":"text","align":"left","baseline":"middle","fontSize":11,"color":"#1e1e1e","clip":true},"encoding":{"x":{"value":832}}},
{"data":{"values":[{"t":"-1.96","r":"r2"},{"t":"14.91","r":"r3"},{"t":"0","r":"r4"}]},"mark":{"type":"text","align":"right","baseline":"middle","fontSize":12,"fontWeight":"bold","color":"#111111","clip":true},"encoding":{"x":{"value":903}}},
{"data":{"values":[{"t":"Friday\u00a0 19-Dec-2025","r":"r0"}]},"mark":{"type":"text","align":"right","baseline":"middle","fontSize":11,"color":"#1e1e1e","clip":true},"encoding":{"x":{"value":903}}},
{"data":{"values":[{"t":"▼","r":"r1"}]},"mark":{"type":"text","align":"left","baseline":"middle","font":"DejaVu Sans","fontSize":13,"color":"#3b5577","clip":true},"encoding":{"x":{"value":835}}},
{"data":{"values":[{"t":"-11.62%","r":"r1"}]},"mark":{"type":"text","align":"right","baseline":"middle","fontSize":14,"fontWeight":"bold","color":"#3b5577","clip":true},"encoding":{"x":{"value":903}}}
]
},
{
"width":908,"height":404,
"view":{"fill":"#f4f6fa","stroke":null},
"layer":[
{
"data":{"name":"ohlc"},
"transform":[{"window":[{"op":"lag","field":"c","as":"pc"}],"sort":[{"field":"d","order":"ascending"}]}],
"encoding":{
"x":{"field":"d","type":"temporal","scale":{"domain":[{"year":2021,"month":2,"date":7},{"year":2025,"month":12,"date":29}],"nice":false},
"axis":{"orient":"bottom","title":null,"tickCount":{"interval":"month","step":1},"grid":true,
"gridColor":{"condition":{"test":"month(datum.value)==0","value":"#c8cbd3"},"value":"#d8dbe2"},
"gridOpacity":{"condition":{"test":"month(datum.value)%3==0","value":1},"value":0},
"domainColor":"#6d7079","tickColor":"#4a4a4a","tickSize":3,
"labelExpr":"month(datum.value)==0 ? timeFormat(datum.value,'%y') : substring(timeFormat(datum.value,'%b'),0,1)",
"labelFont":"DejaVu Sans","labelFontSize":{"condition":{"test":"month(datum.value)==0","value":11},"value":10},
"labelFontWeight":{"condition":{"test":"month(datum.value)==0","value":"bold"},"value":"normal"},
"labelColor":"#2a2a2a","labelPadding":6.5,"labelBaseline":"middle","labelOffset":2,"labelOverlap":false,"labelFlush":false,"labelBound":false}},
"color":{"condition":{"test":"datum.c >= datum.pc","value":"#000000"},"value":"#e00000"}
},
"layer":[
{"mark":{"type":"rule","strokeWidth":2.4,"clip":true},
"encoding":{"y":{"field":"l","type":"quantitative","scale":{"type":"log","domain":[10.41,68.19],"nice":false},
"axis":{"orient":"right","values":[12.5,15,17.5,20,22.5,25,27.5,30,32.5,35,37.5,40,42.5,45,47.5,50,52.5,55,57.5,60,62.5,65],"grid":true,"gridColor":"#dcdfe6","labels":false,"ticks":false,"domain":false,"title":null}},
"y2":{"field":"h"}}},
{"mark":{"type":"tick","orient":"horizontal","size":3,"thickness":1.5,"xOffset":-1.9,"clip":true},"encoding":{"y":{"field":"o","type":"quantitative"}}},
{"mark":{"type":"tick","orient":"horizontal","size":3,"thickness":1.5,"xOffset":1.9,"clip":true},"encoding":{"y":{"field":"c","type":"quantitative"}}}
]
},
{"data":{"values":[{"t":"Volatility Index - New Methodology (Daily) 14.91"}]},
"mark":{"type":"text","align":"left","baseline":"middle","font":"DejaVu Sans Mono","fontSize":9.1,"color":"#1e1e1e","dx":-5,"clip":true},
"encoding":{"x":{"datum":{"year":2021,"month":2,"date":7}},"y":{"datum":65.2},"text":{"field":"t"}}},
{"data":{"values":[{"t":"Volume undef"}]},
"mark":{"type":"text","align":"left","baseline":"middle","font":"DejaVu Sans Mono","fontSize":8.5,"color":"#3f8f3f","dx":-9.7,"clip":true},
"encoding":{"x":{"datum":{"year":2021,"month":2,"date":7}},"y":{"datum":62.3},"text":{"field":"t"}}}
]
}
]
}
